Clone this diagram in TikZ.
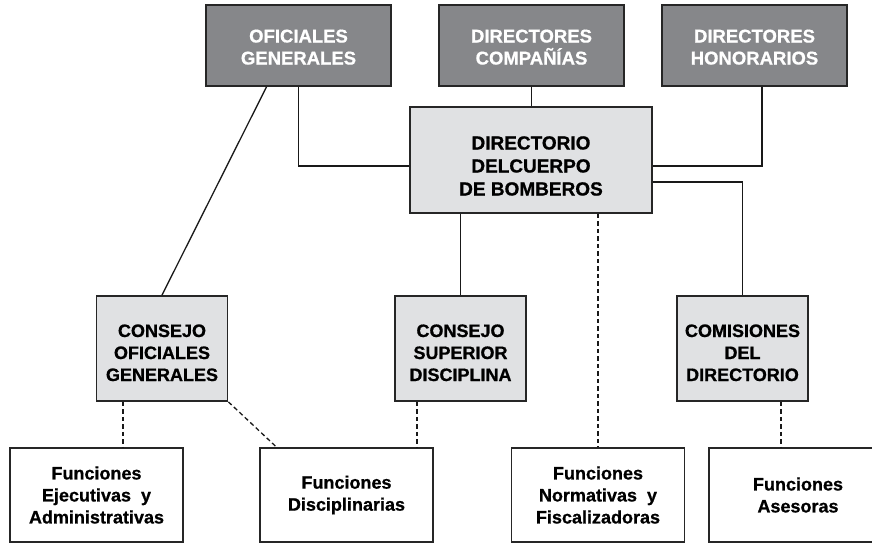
\documentclass[tikz,border=0pt]{standalone}
\usepackage{fontspec}
\setmainfont[BoldFeatures={FakeBold=0.8}]{Liberation Sans}
\usetikzlibrary{calc}
\definecolor{topgray}{HTML}{86878A}
\definecolor{midgray}{HTML}{E0E1E3}
\tikzset{
  boxbase/.style={draw=black!85, line width=1.8pt, align=center,
    font=\bfseries\fontsize{18}{22}\selectfont},
  darkbox/.style={boxbase, fill=topgray, text=white,
    minimum width=185pt, minimum height=81pt,
    text height=38pt, text depth=0pt,
    font=\bfseries\fontsize{18.5}{22}\selectfont},
  mainbox/.style={boxbase, fill=midgray, minimum width=242pt, minimum height=106pt,
    text height=71pt, text depth=0pt,
    font=\bfseries\fontsize{19}{23}\selectfont},
  greybox/.style={boxbase, fill=midgray, minimum width=131pt, minimum height=105pt,
    text height=65pt, text depth=0pt},
  funcbox/.style={boxbase, fill=white, minimum width=173pt, minimum height=94pt},
  link/.style={line width=1.3pt, black!90},
  dlink/.style={link, dash pattern=on 4.5pt off 3pt}
}

\begin{document}
\begin{tikzpicture}[x=1pt,y=-1pt]
    \useasboundingbox (0,0) rectangle (872,544);
    \clip (0,0) rectangle (872,544);

    \node[darkbox] (og) at (298.5,45.5) {OFICIALES\\GENERALES};
    \node[darkbox] (dc) at (531.5,45.5) {DIRECTORES\\COMPAÑÍAS};
    \node[darkbox] (dh) at (754.5,45.5) {DIRECTORES\\HONORARIOS};

    \node[mainbox] (dir) at (531,160) {DIRECTORIO\\DELCUERPO\\DE BOMBEROS};

    \node[greybox] (cog) at (162,348.5) {CONSEJO\\OFICIALES\\GENERALES};
    \node[greybox] (csd) at (460.5,348.5) {CONSEJO\\SUPERIOR\\DISCIPLINA};
    \node[greybox] (cdd) at (742.5,348.5) {COMISIONES\\DEL\\DIRECTORIO};

    \node[funcbox] (fea) at (96.5,495) {Funciones\\Ejecutivas \ y\\Administrativas};
    \node[funcbox] (fdi) at (346.5,495) {Funciones\\Disciplinarias};
    \node[funcbox] (fnf) at (598,495) {Funciones\\Normativas \ y\\Fiscalizadoras};
    \node[funcbox, minimum width=178pt] (fas) at (798,495) {Funciones\\Asesoras};

    \draw[link] (og.south) |- ([yshift=-6pt]dir.west);
    \draw[link] (dc.south) -- (dc.south |- dir.north);
    \draw[link] ([xshift=7.5pt]dh.south) |- ([yshift=-6pt]dir.east);
    \draw[link] ([yshift=-22pt]dir.east) -| (cdd.north);
    \draw[link] (dir.south -| csd.north) -- (csd.north);
    \draw[link] ([xshift=-32pt]og.south) -- (cog.north);

    \draw[dlink] (dir.south -| fnf.north) -- (fnf.north);
    \draw[dlink] ([xshift=-39pt]cog.south) -- ([xshift=-39pt]cog.south |- fea.north);
    \draw[dlink] (cog.south east) -- ([xshift=-70pt]fdi.north);
    \draw[dlink] ([xshift=-43.5pt]csd.south) -- ([xshift=-43.5pt]csd.south |- fdi.north);
    \draw[dlink] ([xshift=38.5pt]cdd.south) -- ([xshift=38.5pt]cdd.south |- fas.north);
\end{tikzpicture}
\end{document}
